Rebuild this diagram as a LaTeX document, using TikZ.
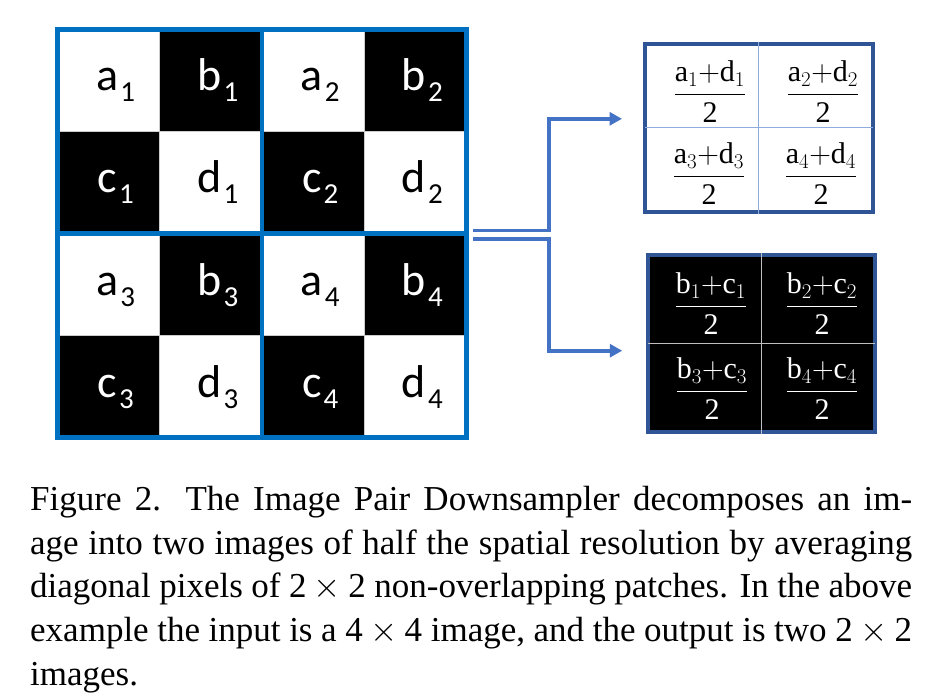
\RequirePackage{fix-cm}
\documentclass[tikz,border=0pt]{standalone}
\usepackage{amsmath}
\usepackage{fontspec}
\setmainfont{Liberation Serif}
\newfontfamily\gridfont{Carlito}
\usetikzlibrary{arrows.meta,positioning}
\definecolor{gridblue}{HTML}{0070C0}
\definecolor{linkblue}{HTML}{4472C4}
\definecolor{boxblue}{HTML}{2F5597}
\definecolor{thinblue}{HTML}{8FAADC}
\newcommand{\pix}[2]{\hspace*{14pt}{\gridfont\fontsize{46}{46}\selectfont #1\kern2pt\raisebox{-11pt}{\fontsize{29}{29}\selectfont #2}}}
\newcommand{\avg}[3]{$\dfrac{\mathrm{#1}_{#3}{+}\mathrm{#2}_{#3}}{\mathrm{2}}$}
\newcommand{\bytwo}[1]{$\mathrm{#1}\times\mathrm{#1}$}

\begin{document}
\begin{tikzpicture}[x=1pt, y=-1pt,
    pixel/.style={minimum size=102pt, inner sep=0, draw=gray!40, line width=0.8pt,
                  text height=32pt, text depth=11pt},
    frac/.style={inner sep=0, font=\fontsize{30}{34}\selectfont},
    outbox/.style={minimum width=227.5pt, inner sep=0, draw=boxblue, line width=4pt},
    link/.style={linkblue, line width=3.6pt, -{Triangle[length=12.5pt, width=13pt]}}]
  \useasboundingbox (0,0) rectangle (932,698);
  % input image, 4x4 pixels
  \foreach \blk/\bx/\by in {1/0/0, 2/1/0, 3/0/1, 4/1/1}
    \foreach \lt/\cx/\cy/\shade/\ink in {a/0/0/white/black, b/1/0/black/white,
                                         c/0/1/black/white, d/1/1/white/black}
      \node (\lt\blk) [pixel, fill=\shade, text=\ink]
            at ({57.5+(2*\bx+\cx+0.5)*102.25}, {29.5+(2*\by+\cy+0.5)*102}) {\pix{\lt}{\blk}};
  \node (input) [minimum width=409pt, minimum height=408pt, inner sep=0,
                 draw=gridblue, line width=4.5pt] at (262,233.5) {};
  \draw [gridblue, line width=4.5pt] (input.north) -- (input.south)
                                     (input.west) -- (input.east);
  % output images
  \node (avg) [outbox, minimum height=168pt, fill=white] at (758.75,128) {};
  \draw [thinblue, line width=1pt, shorten <=2pt, shorten >=2pt]
        (avg.north) -- (avg.south) (avg.west) -- (avg.east);
  \node (diff) [outbox, minimum height=177pt, fill=black] at (761.5,343.5) {};
  \draw [gray!50, line width=1pt, shorten <=2pt, shorten >=2pt]
        (diff.north) -- (diff.south) (diff.west) -- (diff.east);
  \node (avg1) [frac] at (710,92) {\avg{a}{d}{1}};
  \node (avg2) [frac] at (823,92) {\avg{a}{d}{2}};
  \node (avg3) [frac] at (709,174) {\avg{a}{d}{3}};
  \node (avg4) [frac] at (821,174) {\avg{a}{d}{4}};
  \node (diff1) [frac, text=white] at (711,304) {\avg{b}{c}{1}};
  \node (diff2) [frac, text=white] at (822,304) {\avg{b}{c}{2}};
  \node (diff3) [frac, text=white] at (712,389) {\avg{b}{c}{3}};
  \node (diff4) [frac, text=white] at (822,389) {\avg{b}{c}{4}};
  % downsampler links
  \coordinate (splitA) at (473,230.3);
  \coordinate (splitB) at (473,238.8);
  \draw [link, shorten >=21pt] (splitA) -- ++(76,0) |- ([yshift=9.2pt]avg.west);
  \draw [link, shorten >=23.5pt] (splitB) -- ++(76,0) |- ([yshift=-7.2pt]diff.west);
  % caption
  \node (caption) [anchor=north west, text width=882pt, align=justify, inner sep=0,
                   font=\fontsize{35}{43.7}\selectfont] at (30,486)
    {Figure 2.\hspace{0.7em}The Image Pair Downsampler decomposes an im-\linebreak
     age into two images of half the spatial resolution by averaging\linebreak
     diagonal pixels of \bytwo{2} non-overlapping patches. In the above\linebreak
     example the input is a \bytwo{4} image, and the output is two \bytwo{2}\linebreak
     images.};
\end{tikzpicture}
\end{document}
